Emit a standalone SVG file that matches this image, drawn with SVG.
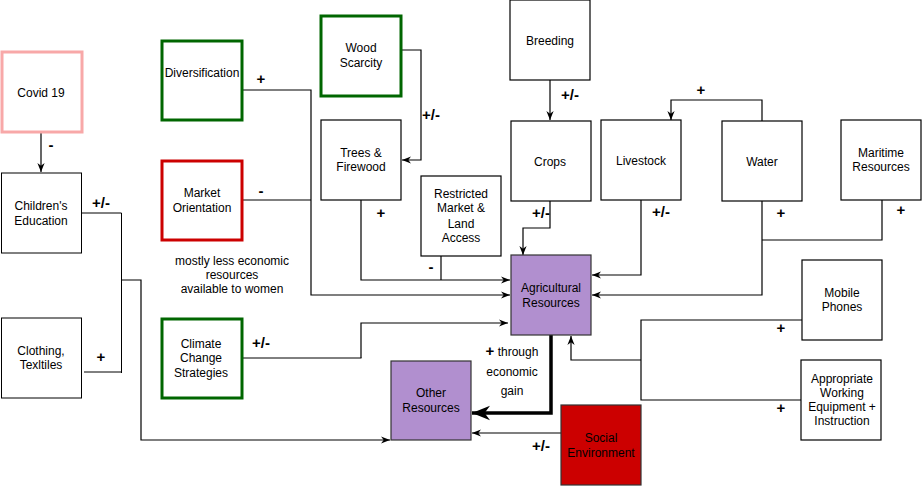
<svg xmlns="http://www.w3.org/2000/svg" width="922" height="486" viewBox="0 0 922 486">
<style>
.n{fill:#fff;stroke:#000;stroke-width:1.2}
.g{fill:#fff;stroke:#000;stroke-width:1}
.gr{fill:#fff;stroke:#006600;stroke-width:3}
.rd{fill:#fff;stroke:#CC0000;stroke-width:3}
.pk{fill:#fff;stroke:#F8A8A8;stroke-width:3}
.pu{fill:#B18FCF;stroke:#333;stroke-width:1.2}
.se{fill:#CC0000;stroke:#333;stroke-width:1.2}
text{font-family:"Liberation Sans",Arial,sans-serif;font-size:12px;fill:#000;text-anchor:middle}
.l{font-size:15px;font-weight:bold}
.c path{fill:none;stroke:#000;stroke-width:1.2}
.c path.gy{stroke-width:1}
</style>
<defs>
<marker id="a" viewBox="0 0 10 10" refX="10" refY="5" markerWidth="9" markerHeight="9" markerUnits="userSpaceOnUse" orient="auto"><path d="M0,1 L10,5 L0,9 L3,5 Z" fill="#000"/></marker>
<marker id="b" viewBox="0 0 10 10" refX="10" refY="5" markerWidth="18" markerHeight="18" markerUnits="userSpaceOnUse" orient="auto"><path d="M0,1 L10,5 L0,9 L3,5 Z" fill="#000"/></marker>
</defs>

<g id="connectors" class="c">
<path d="M41,132 V172" marker-end="url(#a)"/>
<path class="gy" d="M81,213 H121.5 V373"/>
<path class="gy" d="M84,372 H121.5"/>
<path d="M121,280 H141 V440 H390" marker-end="url(#a)"/>
<path d="M242,90 H311 V295 H510" marker-end="url(#a)"/>
<path d="M242,200 H311"/>
<path class="gy" d="M242,358 H361.5"/>
<path d="M361,358 V323 H508" marker-end="url(#a)"/>
<path d="M401,50 H421 V160 H402" marker-end="url(#a)"/>
<path d="M361,200 V280 H510" marker-end="url(#a)"/>
<path d="M441,256 V280"/>
<path d="M550,80 V120" marker-end="url(#a)"/>
<path d="M550,201 V228 H523 V255" marker-end="url(#a)"/>
<path d="M641,200 V275 H592" marker-end="url(#a)"/>
<path d="M762,121 V100 H671 V120" marker-end="url(#a)"/>
<path d="M762,201 V295 H592" marker-end="url(#a)"/>
<path d="M762,240 H882 V200"/>
<path d="M802,320 H641 V400 H801"/>
<path d="M641,360 H571 V336" marker-end="url(#a)"/>
<path d="M551,335 V413 H472" style="stroke-width:3.5" marker-end="url(#b)"/>
<path d="M561,433 H472" marker-end="url(#a)"/>
</g>

<g id="labels">
<text class="l" x="51" y="150">-</text>
<text class="l" x="101" y="208">+/-</text>
<text class="l" x="101" y="362">+</text>
<text class="l" x="261" y="84">+</text>
<text class="l" x="261" y="196">-</text>
<text class="l" x="261" y="348">+/-</text>
<text class="l" x="431" y="120">+/-</text>
<text class="l" x="381" y="218">+</text>
<text class="l" x="431" y="272">-</text>
<text class="l" x="570" y="100">+/-</text>
<text class="l" x="541" y="218">+/-</text>
<text class="l" x="661" y="217">+/-</text>
<text class="l" x="701" y="95">+</text>
<text class="l" x="781" y="218">+</text>
<text class="l" x="901" y="215">+</text>
<text class="l" x="781" y="333">+</text>
<text class="l" x="781" y="413">+</text>
<text class="l" x="541" y="451">+/-</text>
<text x="512" y="356"><tspan style="font-weight:bold;font-size:15px">+</tspan> through</text>
<text x="512" y="376">economic</text>
<text x="512" y="395">gain</text>
<text x="232" y="265">mostly less economic</text>
<text x="232" y="279">resources</text>
<text x="232" y="293">available to women</text>
</g>

<g id="covid"><rect class="pk" x="2" y="52" width="80" height="80"/><text x="41" y="97">Covid 19</text></g>
<g id="childrens-education"><rect class="g" x="1.5" y="173" width="80" height="80"/><text x="41" y="210">Children's</text><text x="41" y="225">Education</text></g>
<g id="clothing"><rect class="g" x="1.5" y="318" width="80" height="80"/><text x="41" y="355">Clothing,</text><text x="41" y="369">Texltiles</text></g>
<g id="diversification"><rect class="gr" x="162" y="41" width="80" height="79"/><text x="202" y="77">Diversification</text></g>
<g id="market-orientation"><rect class="rd" x="162" y="161" width="80" height="79"/><text x="202" y="197">Market</text><text x="202" y="212">Orientation</text></g>
<g id="climate"><rect class="gr" x="162" y="319" width="80" height="79"/><text x="201" y="348">Climate</text><text x="201" y="362">Change</text><text x="201" y="377">Strategies</text></g>
<g id="wood-scarcity"><rect class="gr" x="321" y="16" width="80" height="80"/><text x="361" y="52">Wood</text><text x="361" y="67">Scarcity</text></g>
<g id="trees"><rect class="n" x="321" y="120" width="80" height="80"/><text x="361" y="157">Trees &amp;</text><text x="361" y="171">Firewood</text></g>
<g id="restricted"><rect class="n" x="421" y="176" width="80" height="80"/><text x="461" y="198">Restricted</text><text x="461" y="212">Market &amp;</text><text x="461" y="228">Land</text><text x="461" y="242">Access</text></g>
<g id="breeding"><rect class="n" x="510" y="0" width="80" height="80"/><text x="550" y="45">Breeding</text></g>
<g id="crops"><rect class="n" x="511" y="121" width="80" height="80"/><text x="550" y="166">Crops</text></g>
<g id="livestock"><rect class="n" x="601" y="120" width="80" height="80"/><text x="641" y="165">Livestock</text></g>
<g id="water"><rect class="n" x="722" y="121" width="80" height="80"/><text x="762" y="166">Water</text></g>
<g id="maritime"><rect class="n" x="841" y="120" width="80" height="80"/><text x="881" y="157">Maritime</text><text x="881" y="171">Resources</text></g>
<g id="agricultural"><rect class="pu" x="511" y="255" width="80" height="80"/><text x="551" y="292">Agricultural</text><text x="551" y="307">Resources</text></g>
<g id="mobile"><rect class="n" x="802" y="260" width="80" height="80"/><text x="842" y="297">Mobile</text><text x="842" y="311">Phones</text></g>
<g id="equipment"><rect class="n" x="801" y="360" width="80" height="80"/><text x="842" y="383">Appropriate</text><text x="842" y="397">Working</text><text x="842" y="411">Equipment +</text><text x="842" y="425">Instruction</text></g>
<g id="other"><rect class="pu" x="391" y="361" width="80" height="79"/><text x="431" y="397">Other</text><text x="431" y="412">Resources</text></g>
<g id="social"><rect class="se" x="561" y="405" width="80" height="80"/><text x="601" y="442">Social</text><text x="601" y="457">Environment</text></g>
</svg>
